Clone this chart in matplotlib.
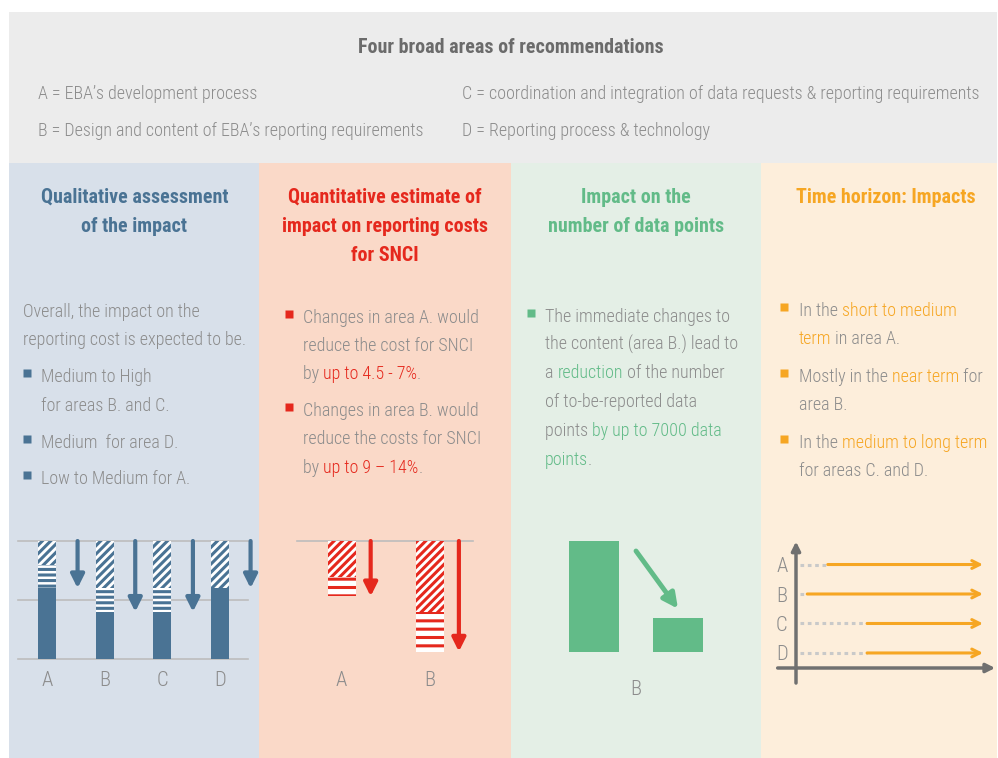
import matplotlib
matplotlib.use("Agg")
import statistics
import matplotlib.pyplot as plt
from matplotlib import font_manager
from matplotlib.patches import Rectangle

# ---------------- data ----------------
areas = ["A", "B", "C", "D"]
area_desc = ["EBA\u2019s development process",
             "Design and content of EBA\u2019s reporting requirements",
             "coordination and integration of data requests & reporting requirements",
             "Reporting process & technology"]
# qualitative: cost reduction band (share of cost, baseline 100)
qual_red_low = [20, 40, 40, 40]
qual_red_high = [40, 60, 60, 40]
qual_base = 100
# quantitative: reduction of reporting costs for SNCI (%)
quant_areas = ["A", "B"]
quant_red_low = [4.5, 9]
quant_red_high = [7, 14]
# data points (relative) before / after changes in area B
dp_labels = ["before", "after"]
dp_values = [100, 31]
# time horizon: start of impact (relative time, 0-100)
time_areas = ["A", "B", "C", "D"]
time_start = [17, 6, 38, 38]
time_end = 100

# ---------------- font choice ----------------
entries = font_manager.fontManager.ttflist
names = {f.name for f in entries}
STRETCH = "normal"
if "Roboto Condensed" in names:
    FONT = "Roboto Condensed"
elif "Liberation Sans Narrow" in names:
    FONT = "Liberation Sans Narrow"
elif any(f.name == "DejaVu Sans" and str(f.stretch) in ("condensed", "semi-condensed", "500")
         for f in entries):
    FONT = "DejaVu Sans"
    STRETCH = "condensed"
elif "Roboto" in names:
    FONT = "Roboto"
else:
    FONT = "DejaVu Sans"
plt.rcParams["font.family"] = [FONT, "DejaVu Sans"]
plt.rcParams["font.stretch"] = STRETCH
plt.rcParams["hatch.linewidth"] = 2.2

LW_ = "light"

GREY_T = "#8c8c8c"
TITLE_G = "#6b6b6b"
BLUE = "#4a7394"
RED = "#e5281d"
GREEN = "#62bb88"
ORANGE = "#f6a623"
BG_TOP = "#ececec"
BG_BLUE = "#d8e0ea"
BG_RED = "#fad9c8"
BG_GREEN = "#e4efe6"
BG_ORANGE = "#fdeedb"

W, H = 998, 758
fig = plt.figure(figsize=(W / 100, H / 100), dpi=100)
fig.patch.set_facecolor("white")
ax = fig.add_axes([0, 0, 1, 1])
ax.set_xlim(0, W)
ax.set_ylim(H, 0)
ax.axis("off")

# backgrounds
ax.add_patch(Rectangle((9, 12), 988, 151, color=BG_TOP, lw=0))
for x0, x1, c in [(9, 259, BG_BLUE), (259, 511, BG_RED), (511, 761, BG_GREEN), (761, 997, BG_ORANGE)]:
    ax.add_patch(Rectangle((x0, 163), x1 - x0, 595, color=c, lw=0))

fig.canvas.draw()
renderer = fig.canvas.get_renderer()


def raw_width(s, size, weight="normal"):
    t = ax.text(0, 0, s, fontsize=size, fontweight=weight)
    w = t.get_window_extent(renderer).width
    t.remove()
    return w


def text_width(s, size, weight="normal"):
    return raw_width(s + "x", size, weight) - raw_width("x", size, weight)


def fit(samples, weight="normal"):
    return statistics.median(10 * tw / raw_width(s, 10, weight) for s, tw in samples)


BS = fit([("Overall, the impact on the", 179), ("reporting cost is expected to be.", 223),
          ("reduce the costs for SNCI", 177), ("the content (area B.) lead to", 195),
          ("In the medium to long term", 189)], LW_)
HS = fit([("Qualitative assessment", 189), ("impact on reporting costs", 205),
          ("number of data points", 176), ("Time horizon: Impacts", 177)], "bold")
TS = fit([("Four broad areas of recommendations", 304)], "bold")
LS = fit([("C = " + area_desc[2], 520), ("B = " + area_desc[1], 387)], LW_)
TICKS = min(BS * 1.15, 16)


def rich(x, y, pieces, size, weight=LW_):
    prefix = ""
    for s, c in pieces:
        dx = text_width(prefix, size, weight) if prefix else 0
        ax.text(x + dx, y, s, fontsize=size, fontweight=weight, color=c, va="baseline", ha="left")
        prefix += s


# top box
ax.text(511, 53, "Four broad areas of recommendations", fontsize=TS, fontweight="bold",
        color=TITLE_G, ha="center", va="baseline")
leg_pos = [(38, 99), (38, 136), (462, 99), (462, 136)]
for (lx, ly), a, d in zip(leg_pos, areas, area_desc):
    ax.text(lx, ly, f"{a} = {d}", fontsize=LS, fontweight=LW_, color=GREY_T,
            ha="left", va="baseline")

# headings
for cx, lines, col in [(134.5, ["Qualitative assessment", "of the impact"], BLUE),
                       (385, ["Quantitative estimate of", "impact on reporting costs", "for SNCI"], RED),
                       (636, ["Impact on the", "number of data points"], GREEN),
                       (886, ["Time horizon: Impacts"], ORANGE)]:
    for i, l in enumerate(lines):
        ax.text(cx, 203 + 29 * i, l, fontsize=HS, fontweight="bold", color=col,
                ha="center", va="baseline")


def bullet(x, y, col):
    ax.plot([x], [y], marker="s", ms=5.2, color=col, mec="none")


# blue body
rich(23, 317, [("Overall, the impact on the", GREY_T)], BS)
rich(23, 345, [("reporting cost is expected to be.", GREY_T)], BS)
for by, txt in [(382, "Medium to High"), (411, "for areas B. and C."), (448, "Medium  for area D."),
                (484, "Low to Medium for A.")]:
    rich(41, by, [(txt, GREY_T)], BS)
for by in [382, 448, 484]:
    bullet(27.5, by - 9.5, BLUE)

# red body
red_lines = [(323, [("Changes in area A. would", GREY_T)]),
             (351, [("reduce the cost for SNCI", GREY_T)]),
             (379, [("by ", GREY_T), ("up to 4.5 - 7%", RED), (".", GREY_T)]),
             (416, [("Changes in area B. would", GREY_T)]),
             (444, [("reduce the costs for SNCI", GREY_T)]),
             (473, [("by ", GREY_T), ("up to 9 \u2013 14%", RED), (".", GREY_T)])]
for by, p in red_lines:
    rich(303, by, p, BS)
for by in [323, 416]:
    bullet(289.5, by - 9.5, RED)

# green body
green_lines = [(322, [("The immediate changes to", GREY_T)]),
               (350, [("the content (area B.) lead to", GREY_T)]),
               (378, [("a ", GREY_T), ("reduction", GREEN), (" of the number", GREY_T)]),
               (407, [("of to-be-reported data", GREY_T)]),
               (436, [("points ", GREY_T), ("by up to 7000 data", GREEN)]),
               (465, [("points", GREEN), (".", GREY_T)])]
for by, p in green_lines:
    rich(545, by, p, BS)
bullet(531, 322 - 9.5, GREEN)

# orange body
orange_lines = [(316, [("In the ", GREY_T), ("short to medium", ORANGE)]),
                (344, [("term", ORANGE), (" in area A.", GREY_T)]),
                (382, [("Mostly in the ", GREY_T), ("near term", ORANGE), (" for", GREY_T)]),
                (410, [("area B.", GREY_T)]),
                (448, [("In the ", GREY_T), ("medium to long term", ORANGE)]),
                (476, [("for areas C. and D.", GREY_T)])]
for by, p in orange_lines:
    rich(799, by, p, BS)
for by in [316, 382, 448]:
    bullet(784, by - 9.5, ORANGE)


def pix_axes(x0, y0, x1, y1):
    a = fig.add_axes([x0 / W, 1 - y1 / H, (x1 - x0) / W, (y1 - y0) / H])
    a.patch.set_alpha(0)
    for s in a.spines.values():
        s.set_visible(False)
    return a


# ---------------- blue mini chart ----------------
a1 = pix_axes(18, 541, 250, 659)
a1.set_xlim(-0.503, 3.52)
a1.set_ylim(0, qual_base)
for gy in [0, qual_base / 2, qual_base]:
    a1.axhline(gy, xmin=0, xmax=0.99, color="#bdbdbd", lw=1.2, clip_on=False, zorder=0)
bw = 0.31
for i, (lo, hi) in enumerate(zip(qual_red_low, qual_red_high)):
    remain = qual_base - hi
    a1.bar(i, remain, width=bw, color=BLUE, lw=0, zorder=2)
    if hi > lo:
        a1.bar(i, hi - lo, bottom=remain, width=bw, facecolor="white", edgecolor=BLUE,
               hatch="---", lw=0, zorder=2)
    a1.bar(i, lo, bottom=qual_base - lo, width=bw, facecolor="white", edgecolor=BLUE,
           hatch="////", lw=0, zorder=2)
    a1.annotate("", xy=(i + 0.53, qual_base - hi), xytext=(i + 0.53, qual_base),
                arrowprops=dict(arrowstyle="-|>", lw=3, color=BLUE, mutation_scale=20,
                                shrinkA=0, shrinkB=0), annotation_clip=False)
a1.set_xticks(range(len(areas)))
a1.set_xticklabels(areas, fontsize=TICKS, fontweight=LW_, color=GREY_T)
a1.tick_params(length=0, pad=9)
a1.set_yticks([])

# ---------------- red mini chart ----------------
a2 = pix_axes(297, 541, 473, 659)
a2.set_xlim(-0.505, 1.49)
a2.set_ylim(118 / 7.9, 0)
a2.axhline(0, color="#bdbdbd", lw=1.2, clip_on=False, zorder=0)
bw2 = 28 / 88.2
for i, (lo, hi) in enumerate(zip(quant_red_low, quant_red_high)):
    a2.bar(i, lo, width=bw2, facecolor="white", edgecolor=RED, hatch="////", lw=0, zorder=2)
    a2.bar(i, hi - lo, bottom=lo, width=bw2, facecolor="white", edgecolor=RED, hatch="--",
           lw=0, zorder=2)
    a2.annotate("", xy=(i + 0.33, hi), xytext=(i + 0.33, 0),
                arrowprops=dict(arrowstyle="-|>", lw=3, color=RED, mutation_scale=20,
                                shrinkA=0, shrinkB=0), annotation_clip=False)
a2.set_xticks(range(len(quant_areas)))
a2.set_xticklabels(quant_areas, fontsize=TICKS, fontweight=LW_, color=GREY_T)
a2.tick_params(length=0, pad=9)
a2.set_yticks([])

# ---------------- green mini chart ----------------
a3 = pix_axes(560, 541, 712, 652)
a3.set_xlim(-0.405, 1.405)
a3.set_ylim(0, dp_values[0])
a3.bar([0, 1], dp_values, width=50 / 84, color=GREEN, lw=0)
a3.annotate("", xy=(1.0, dp_values[1] + 8), xytext=(0.5, dp_values[0] * 0.91),
            arrowprops=dict(arrowstyle="-|>", lw=3.5, color=GREEN, mutation_scale=22,
                            shrinkA=0, shrinkB=0), annotation_clip=False)
a3.set_xticks([0.5])
a3.set_xticklabels(["B"], fontsize=TICKS, fontweight=LW_, color=GREY_T)
a3.tick_params(length=0, pad=20)
a3.set_yticks([])

# ---------------- orange timeline ----------------
a4 = pix_axes(796, 543, 983, 668)
a4.set_xlim(0, time_end)
a4.set_ylim(0.49, 4.73)
AX_C = "#707070"
a4.annotate("", xy=(0, 4.78), xytext=(0, -0.02),
            arrowprops=dict(arrowstyle="-|>", lw=2.5, color=AX_C, mutation_scale=13,
                            shrinkA=0, shrinkB=0), annotation_clip=False)
a4.annotate("", xy=(106.5, 0.49), xytext=(-9.8, 0.49),
            arrowprops=dict(arrowstyle="-|>", lw=2.5, color=AX_C, mutation_scale=13,
                            shrinkA=0, shrinkB=0), annotation_clip=False)
rows = list(range(len(time_areas), 0, -1))
for r, s in zip(rows, time_start):
    a4.plot([2.2, s], [r, r], color="#c9c9c9", lw=2.2, ls=(0, (1.2, 1.2)), clip_on=False)
    a4.annotate("", xy=(time_end, r), xytext=(s, r),
                arrowprops=dict(arrowstyle="->", lw=2.2, color=ORANGE, mutation_scale=14,
                                shrinkA=0, shrinkB=0), annotation_clip=False)
a4.set_yticks(rows)
a4.set_yticklabels(time_areas, fontsize=TICKS, fontweight=LW_, color=GREY_T)
a4.tick_params(length=0, pad=6)
a4.set_xticks([])

fig.savefig("out.png", dpi=100, facecolor="white")
